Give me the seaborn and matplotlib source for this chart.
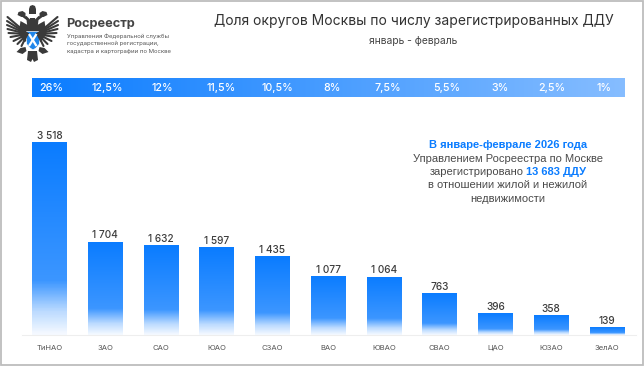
import numpy as np
import matplotlib
matplotlib.use("Agg")
import matplotlib.pyplot as plt
import pandas as pd
import seaborn as sns
from matplotlib.colors import LinearSegmentedColormap
from matplotlib.patches import Rectangle, Polygon

districts = ["ТиНАО", "ЗАО", "САО", "ЮАО", "СЗАО", "ВАО", "ЮВАО", "СВАО", "ЦАО", "ЮЗАО", "ЗелАО"]
counts = [3518, 1704, 1632, 1597, 1435, 1077, 1064, 763, 396, 358, 139]
count_labels = ["3 518", "1 704", "1 632", "1 597", "1 435", "1 077", "1 064", "763", "396", "358", "139"]
shares = ["26%", "12,5%", "12%", "11,5%", "10,5%", "8%", "7,5%", "5,5%", "3%", "2,5%", "1%"]

W, H = 644, 366
BLUE = "#0a7cff"
DARK = "#3d3d3d"
sns.set_theme(style="white")
plt.rcParams["font.family"] = ["Inter", "DejaVu Sans"]
fig = plt.figure(figsize=(W / 100, H / 100), dpi=100, facecolor="white")

def pxrect(x0, y0, x1, y1):
    return [x0 / W, 1 - y1 / H, (x1 - x0) / W, (y1 - y0) / H]

page = fig.add_axes([0, 0, 1, 1], zorder=5)
page.set_xlim(0, W); page.set_ylim(H, 0); page.axis("off"); page.patch.set_alpha(0)
page.add_patch(Rectangle((0.5, 0.5), W - 1.5, H - 1.5, fill=False, ec="#bdbdbd", lw=1.3))

# bars
ax = fig.add_axes(pxrect(22, 110, 636, 335))
df = pd.DataFrame({"district": districts, "count": counts})
sns.barplot(data=df, x="district", y="count", color=BLUE, width=0.625, ax=ax, saturation=1)
ax.set_xlabel(""); ax.set_ylabel(""); ax.set_yticks([])
sns.despine(ax=ax, left=True)
ax.spines["bottom"].set_color("#eeeeee"); ax.spines["bottom"].set_linewidth(0.8)
ax.tick_params(axis="x", length=0, pad=7, labelsize=5.5, labelcolor="#555555")
ax.bar_label(ax.containers[0], labels=count_labels, fontsize=7.3, color=DARK, padding=1, fontweight="medium")

# fade each bar into white at the foot
cmap = LinearSegmentedColormap.from_list(
    "fade", [(0, "#f6faff"), (0.12, "#bcdbff"), (0.28, "#3c96ff"), (1, BLUE)])
for bar in list(ax.patches):
    x, w, h = bar.get_x(), bar.get_width(), bar.get_height()
    g = np.linspace(0, 1, 200)[:, None]
    im = ax.imshow(g, extent=(x, x + w, 0, h), origin="lower", cmap=cmap, vmin=0, vmax=1,
                   aspect="auto", zorder=bar.get_zorder() + 0.1)
    im.set_clip_path(bar)
ax.set_xlim(-0.493, 10.52)
ax.set_ylim(0, 225 / 0.05486)

# share band
band = fig.add_axes(pxrect(32, 78, 625, 97))
band.imshow(np.linspace(0, 1, 256)[None, :], aspect="auto", extent=(32, 625, 97, 78),
            cmap=LinearSegmentedColormap.from_list("band", [BLUE, "#86bdff"]))
band.axis("off")
share_x = [51.5, 107, 162, 221, 277, 332, 388, 447, 500, 552, 604]
for xp, s in zip(share_x, shares):
    page.text(xp, 87.7, s, color="white", fontsize=7.7, ha="center", va="center", fontweight="medium")

# titles
page.text(413.5, 21.5, "Доля округов Москвы по числу зарегистрированных ДДУ", fontsize=10.0,
          color="#333333", ha="center", va="center")
page.text(413, 41, "январь - февраль", fontsize=7.4, color="#444444", ha="center", va="center")

# logo text
page.text(66, 24, "Росреестр", fontsize=9.2, fontweight="bold", color="#444444", ha="left", va="center")
for yy, line in zip([36, 43.5, 51], ["Управления Федеральной службы", "государственной регистрации,",
                                    "кадастра и картографии по Москве"]):
    page.text(67, yy, line, fontsize=4.3, color="#555555", ha="left", va="center")

# emblem (stylised)
EC = "#3a3a3a"
cx = 32.5
tips = [(25, 17), (25.5, 21), (25.5, 25), (25, 29), (24, 33), (22, 37), (19, 41), (15, 44), (11, 46)]
for s in (1, -1):
    for ta, tb in tips:
        page.plot([cx + s * 5, cx + s * ta], [34, tb], color=EC, lw=1.5, solid_capstyle="round")
    page.add_patch(Polygon([(cx + s * a, b) for a, b in [(3, 26), (12, 21), (14, 34), (8, 42), (3, 40)]], fc=EC, ec="none"))
    page.add_patch(Polygon([(cx + s * a, b) for a, b in [(1, 27), (2, 20), (6, 16), (10, 17), (6, 20), (5, 28)]], fc=EC, ec="none"))
    page.add_patch(Polygon([(cx + s * a, b) for a, b in [(7, 17), (7, 13), (10, 11), (14, 12), (15, 15), (11, 17)]], fc=EC, ec="none"))
    page.add_patch(Polygon([(cx + s * a, b) for a, b in [(7, 47), (12, 48), (16, 52), (10, 54), (6, 51)]], fc=EC, ec="none"))
page.add_patch(Polygon([(29, 9), (30, 6), (32.5, 5), (35, 6), (36, 9), (36, 14), (29, 14)], fc=EC, ec="none"))
page.add_patch(Polygon([(30, 18), (35, 18), (37, 32), (28, 32)], fc=EC, ec="none"))
page.add_patch(Polygon([(26.5, 31.5), (39.5, 31.5), (39.5, 44), (36, 48), (33, 50), (30, 48), (26.5, 44)],
                       fc="#1f86ea", ec="white", lw=0.5))
page.plot([29, 36.5], [34, 46], color="white", lw=1.6, solid_capstyle="butt")
page.plot([36.5, 29], [34, 46], color="white", lw=1.6, solid_capstyle="butt")
page.add_patch(Polygon([(28, 51), (37, 51), (38, 60), (34, 62), (32.5, 59), (31, 62), (27, 60)], fc=EC, ec="none"))

# callout: mixed-weight lines, centred on one axis
fig.canvas.draw()
rend = fig.canvas.get_renderer()
CX, FS = 508, 8.0
GR = "#4a4a4a"
SANS = "Liberation Sans"
page.text(CX, 145, "В январе-феврале 2026 года", fontsize=FS, fontweight="bold", color=BLUE, ha="center", va="center", family=SANS)
page.text(CX, 158.5, "Управлением Росреестра по Москве", fontsize=FS, color=GR, ha="center", va="center", family=SANS)
a = page.text(0, 172, "зарегистрировано", fontsize=FS, color=GR, va="center", family=SANS)
b = page.text(0, 172, "13 683 ДДУ", fontsize=FS, fontweight="bold", color=BLUE, va="center", family=SANS)
wa = a.get_window_extent(rend).width + 3
wb = b.get_window_extent(rend).width
a.set_x(CX - (wa + wb) / 2); b.set_x(CX - (wa + wb) / 2 + wa)
page.text(CX, 185, "в отношении жилой и нежилой", fontsize=FS, color=GR, ha="center", va="center", family=SANS)
page.text(CX, 198.5, "недвижимости", fontsize=FS, color=GR, ha="center", va="center", family=SANS)

fig.savefig("out.png", dpi=100)
